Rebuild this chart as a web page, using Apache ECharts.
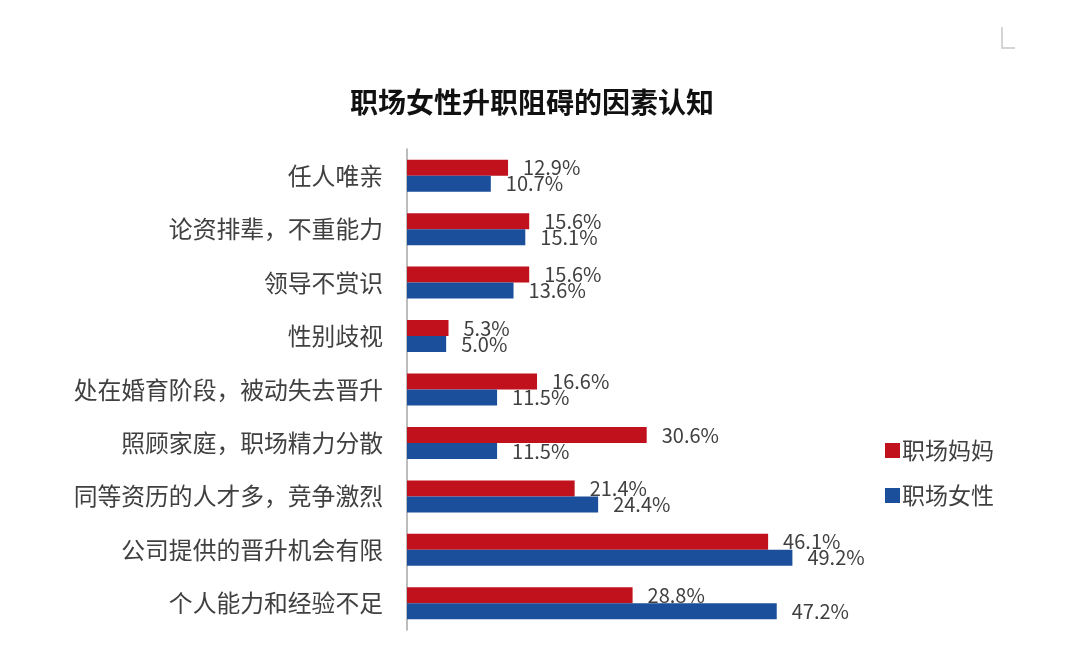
<!DOCTYPE html>
<html>
<head>
<meta charset="utf-8">
<script src="https://cdn.jsdelivr.net/npm/echarts@6/dist/echarts.min.js"></script>
<style>
html,body{margin:0;padding:0;background:#fff;}
#c{width:1080px;height:666px;}
</style>
</head>
<body>
<div id="c"></div>
<script>
const title = '职场女性升职阻碍的因素认知';
const categories = ['任人唯亲','论资排辈，不重能力','领导不赏识','性别歧视','处在婚育阶段，被动失去晋升','照顾家庭，职场精力分散','同等资历的人才多，竞争激烈','公司提供的晋升机会有限','个人能力和经验不足'];
const seriesNames = ['职场妈妈','职场女性'];
const moms = [12.9,15.6,15.6,5.3,16.6,30.6,21.4,46.1,28.8];
const women = [10.7,15.1,13.6,5.0,11.5,11.5,24.4,49.2,47.2];

const FONT = '"Noto Sans CJK SC","Microsoft YaHei",sans-serif';
const chart = echarts.init(document.getElementById('c'), null, {renderer:'canvas'});
const labelCfg = {
  show:true, position:'right', distance:15,
  formatter: p => p.value.toFixed(1) + '%',
  color:'#404040', fontSize:20, fontFamily:FONT
};
chart.setOption({
  backgroundColor:'#ffffff',
  animation:false,
  title:{
    text:title, left:527, top:97, textAlign:'center', textVerticalAlign:'middle',
    textStyle:{fontSize:28, fontWeight:'bold', color:'#111111', fontFamily:FONT}
  },
  legend:{
    orient:'vertical', left:880, top:434, itemGap:22,
    itemWidth:15, itemHeight:15, icon:'rect',
    textStyle:{fontSize:23, color:'#404040', fontFamily:FONT, padding:[0,0,0,-3]},
    data:seriesNames
  },
  grid:{left:407, top:149, width:470, height:481},
  xAxis:{type:'value', min:0, max:60, show:false},
  yAxis:{
    type:'category', data:categories, inverse:true,
    axisLine:{show:true, lineStyle:{color:'#a6a6a6', width:1.5}},
    axisTick:{show:false},
    axisLabel:{margin:24, fontSize:23.8, color:'#404040', fontFamily:FONT}
  },
  graphic:[
    {type:'polyline', shape:{points:[[1002,27],[1002,48],[1015,48]]}, style:{stroke:'#c8c8c8', lineWidth:1.5, fill:null}}
  ],
  series:[
    {name:seriesNames[0], type:'bar', data:moms, barWidth:16, barGap:'0%',
     itemStyle:{color:'#C0111C'}, label:labelCfg},
    {name:seriesNames[1], type:'bar', data:women, barWidth:16, barGap:'0%',
     itemStyle:{color:'#1B4E9B'}, label:labelCfg}
  ]
});
</script>
</body>
</html>
